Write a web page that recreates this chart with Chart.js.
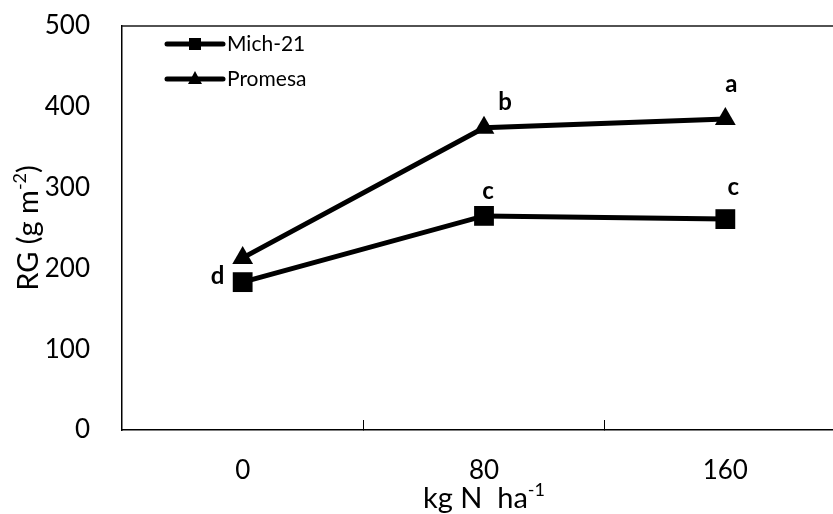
<!DOCTYPE html>
<html>
<head>
<meta charset="utf-8">
<script src="https://cdn.jsdelivr.net/npm/chart.js@4.4.1/dist/chart.umd.min.js"></script>
<style>
  html, body { margin: 0; padding: 0; background: #fff; overflow: hidden; }
  canvas { display: block; }
</style>
</head>
<body>
<canvas id="myChart" width="860" height="514" style="width:860px;height:514px"></canvas>
<script>
// doses (kg N ha-1)
const doses = ['0', '80', '160'];
// RG (g m-2)
const mich21 = [183, 265, 261];
const promesa = [213, 374, 385];
// significance letters
const michLetters = ['d', 'c', 'c'];
const promesaLetters = ['', 'b', 'a'];
const yTicks = [0, 100, 200, 300, 400, 500];

const FONT = 'Lato, "Open Sans", sans-serif';

// draws text with superscript parts: [[text, isSup], ...], centred at x, baseline y
function drawRuns(ctx, runs, x, y, size) {
    const supSize = Math.round(size * 0.62);
    let total = 0;
    runs.forEach(r => {
        ctx.font = (r[1] ? supSize : size) + 'px ' + FONT;
        total += ctx.measureText(r[0]).width;
    });
    let cx = x - total / 2;
    ctx.textAlign = 'left';
    ctx.textBaseline = 'alphabetic';
    runs.forEach(r => {
        ctx.font = (r[1] ? supSize : size) + 'px ' + FONT;
        ctx.fillText(r[0], cx, r[1] ? y - size * 0.42 : y);
        cx += ctx.measureText(r[0]).width;
    });
}

const extras = {
    id: 'extras',
    afterDraw(chart) {
        const ctx = chart.ctx;
        const area = chart.chartArea;
        ctx.save();
        // plot border
        ctx.strokeStyle = '#1a1a1a';
        ctx.lineWidth = 1.5;
        ctx.beginPath();
        ctx.moveTo(area.left, area.top);
        ctx.lineTo(area.right, area.top);
        ctx.lineTo(area.right, area.bottom);
        ctx.stroke();

        ctx.fillStyle = '#000';
        // axis titles
        ctx.save();
        ctx.translate(38, (area.top + area.bottom) / 2);
        ctx.rotate(-Math.PI / 2);
        drawRuns(ctx, [['RG (g m', false], ['-2', true], [')', false]], 0, 0, 29);
        ctx.restore();
        drawRuns(ctx, [['kg N  ha', false], ['-1', true]], chart.scales.x.getPixelForValue(1), 508, 29);

        // letters
        ctx.font = 'bold 24px ' + FONT;
        ctx.textAlign = 'center';
        ctx.textBaseline = 'alphabetic';
        const michOff = [[-25, 2], [4, -17], [8, -24]];
        const proOff = [[0, 0], [21, -18], [6, -27]];
        const m0 = chart.getDatasetMeta(0).data;
        const m1 = chart.getDatasetMeta(1).data;
        michLetters.forEach((t, i) => {
            if (t) ctx.fillText(t, m0[i].x + michOff[i][0], m0[i].y + michOff[i][1]);
        });
        promesaLetters.forEach((t, i) => {
            if (t) ctx.fillText(t, m1[i].x + proOff[i][0], m1[i].y + proOff[i][1]);
        });

        // legend (line - marker - line)
        const legY = [44, 79];
        chart.data.datasets.forEach((ds, i) => {
            const y = legY[i];
            ctx.strokeStyle = '#000';
            ctx.lineWidth = 5;
            ctx.lineCap = 'round';
            ctx.beginPath();
            ctx.moveTo(167, y);
            ctx.lineTo(223, y);
            ctx.stroke();
            ctx.beginPath();
            if (ds.pointStyle === 'rect') {
                ctx.rect(189, y - 6, 12, 12);
            } else {
                ctx.moveTo(195, y - 8);
                ctx.lineTo(202, y + 5);
                ctx.lineTo(188, y + 5);
                ctx.closePath();
            }
            ctx.fill();
            ctx.font = '21px ' + FONT;
            ctx.textAlign = 'left';
            ctx.textBaseline = 'middle';
            ctx.fillText(ds.label, 227, y);
        });
        ctx.restore();
    }
};

const config = {
    type: 'line',
    data: {
        labels: doses,
        datasets: [{
            label: 'Mich-21',
            data: mich21,
            borderColor: '#000',
            backgroundColor: '#000',
            borderWidth: 5,
            pointStyle: 'rect',
            pointRadius: 14,
            pointBorderWidth: 0,
            pointBackgroundColor: '#000',
            tension: 0
        }, {
            label: 'Promesa',
            data: promesa,
            borderColor: '#000',
            backgroundColor: '#000',
            borderWidth: 5,
            pointStyle: 'triangle',
            pointRadius: 12,
            pointBorderWidth: 0,
            pointBackgroundColor: '#000',
            tension: 0
        }]
    },
    options: {
        responsive: false,
        animation: false,
        layout: { padding: { top: 26, right: 3, bottom: 0, left: 0 } },
        plugins: {
            legend: { display: false },
            tooltip: { enabled: false }
        },
        scales: {
            x: {
                offset: true,
                grid: {
                    offset: true,
                    drawOnChartArea: false,
                    drawTicks: true,
                    tickLength: -10,
                    color: '#000',
                    lineWidth: 1
                },
                border: { color: '#000', width: 1.5 },
                ticks: {
                    color: '#000',
                    font: { family: FONT, size: 26 },
                    padding: 35
                },
                afterFit: (scale) => {
                    scale.height = 84;
                    scale.paddingLeft = 0;
                    scale.paddingRight = 0;
                }
            },
            y: {
                min: 0,
                max: 500,
                grid: { drawOnChartArea: false, drawTicks: false },
                border: { color: '#000', width: 1.5 },
                afterBuildTicks: (scale) => {
                    scale.ticks = yTicks.map(v => ({ value: v }));
                },
                ticks: {
                    color: '#000',
                    font: { family: FONT, size: 26 },
                    padding: 32
                },
                afterFit: (scale) => {
                    scale.width = 122;
                    scale.paddingTop = 0;
                    scale.paddingBottom = 0;
                }
            }
        }
    },
    plugins: [extras]
};

const ctx = document.getElementById('myChart').getContext('2d');
const myChart = new Chart(ctx, config);
</script>
</body>
</html>
